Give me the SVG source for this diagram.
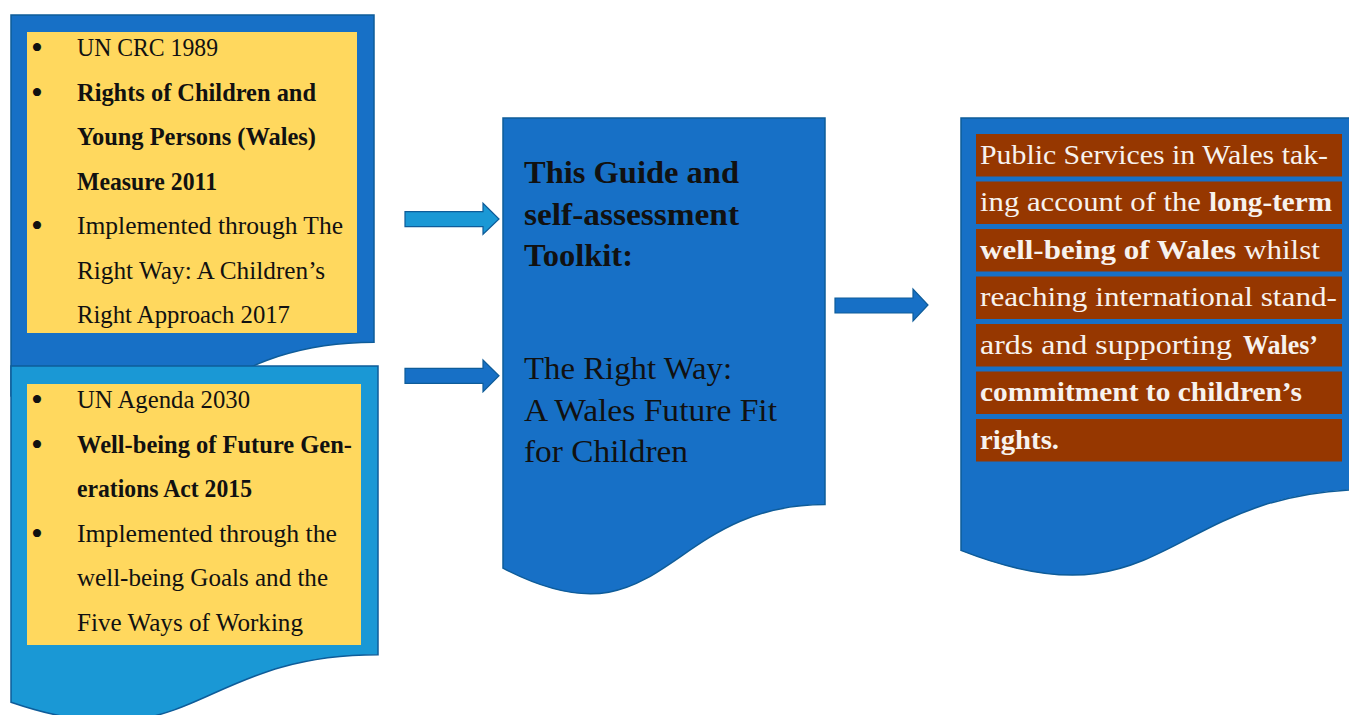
<svg xmlns="http://www.w3.org/2000/svg" width="1349" height="715" viewBox="0 0 1349 715">
<style>
.doc{stroke:#0E5C99;stroke-width:1.5}
.dark{fill:#1770C6}
.light{fill:#1A98D5}
.arrow{stroke:#0E5C99;stroke-width:1.2}
.t{font-family:"Liberation Serif","Times New Roman",serif;fill:#111}
.s{font-size:25px}
.m{font-size:32px}
.r{font-size:28px;fill:#F7F2EE}
.b{font-weight:bold}
.bul{font-family:"Liberation Serif",serif;font-size:34px;fill:#111;text-anchor:middle}
</style>
<rect width="1349" height="715" fill="#FFFFFF"/>
<g id="box1">
<path class="doc dark" d="M11,15 H374 V342.2 C192.5,342.2 192.5,466.9 11,396.1 Z"/>
<rect x="27" y="32" width="330" height="301" fill="#FFD85E"/>
<text class="bul" x="37" y="59">•</text>
<text class="bul" x="37" y="103.5">•</text>
<text class="bul" x="37" y="237">•</text>
<text class="t s" x="77" y="56" textLength="141" lengthAdjust="spacingAndGlyphs">UN CRC 1989</text>
<text class="t s b" x="77" y="100.5" textLength="239" lengthAdjust="spacingAndGlyphs">Rights of Children and</text>
<text class="t s b" x="77" y="145" textLength="239" lengthAdjust="spacingAndGlyphs">Young Persons (Wales)</text>
<text class="t s b" x="77" y="189.5" textLength="140" lengthAdjust="spacingAndGlyphs">Measure 2011</text>
<text class="t s" x="77" y="234" textLength="266" lengthAdjust="spacingAndGlyphs">Implemented through The</text>
<text class="t s" x="77" y="278.5" textLength="248" lengthAdjust="spacingAndGlyphs">Right Way: A Children’s</text>
<text class="t s" x="77" y="323" textLength="213" lengthAdjust="spacingAndGlyphs">Right Approach 2017</text>
</g>
<g id="box2">
<path class="doc light" d="M11,366 H378 V654.7 C194.5,654.7 194.5,764.7 11,702.2 Z"/>
<rect x="27" y="384" width="334" height="261" fill="#FFD85E"/>
<text class="bul" x="37" y="411">•</text>
<text class="bul" x="37" y="455.5">•</text>
<text class="bul" x="37" y="544.5">•</text>
<text class="t s" x="77" y="408" textLength="173" lengthAdjust="spacingAndGlyphs">UN Agenda 2030</text>
<text class="t s b" x="77" y="452.5" textLength="275" lengthAdjust="spacingAndGlyphs">Well-being of Future Gen-</text>
<text class="t s b" x="77" y="497" textLength="175" lengthAdjust="spacingAndGlyphs">erations Act 2015</text>
<text class="t s" x="77" y="541.5" textLength="260" lengthAdjust="spacingAndGlyphs">Implemented through the</text>
<text class="t s" x="77" y="586" textLength="251" lengthAdjust="spacingAndGlyphs">well-being Goals and the</text>
<text class="t s" x="77" y="630.5" textLength="226" lengthAdjust="spacingAndGlyphs">Five Ways of Working</text>
</g>
<g id="guide">
<path class="doc dark" d="M503,118 H825 V504.6 C664,504.6 664,651.8 503,568.2 Z"/>
<text class="t m b" x="524" y="183" textLength="215" lengthAdjust="spacingAndGlyphs">This Guide and</text>
<text class="t m b" x="524" y="225" textLength="215" lengthAdjust="spacingAndGlyphs">self-assessment</text>
<text class="t m b" x="524" y="266" textLength="109" lengthAdjust="spacingAndGlyphs">Toolkit:</text>
<text class="t m" x="524" y="379" textLength="208" lengthAdjust="spacingAndGlyphs">The Right Way:</text>
<text class="t m" x="524" y="421" textLength="253" lengthAdjust="spacingAndGlyphs">A Wales Future Fit</text>
<text class="t m" x="524" y="462" textLength="164" lengthAdjust="spacingAndGlyphs">for Children</text>
</g>
<g id="outcome">
<path class="doc dark" d="M961,118 H1371 V489.3 C1166,489.3 1166,630.8 961,550.4 Z"/>
<g fill="#963700">
<rect x="976" y="134" width="366" height="42.5"/>
<rect x="976" y="181.5" width="366" height="42.5"/>
<rect x="976" y="229" width="366" height="42.5"/>
<rect x="976" y="276.5" width="366" height="42.5"/>
<rect x="976" y="324" width="366" height="42.5"/>
<rect x="976" y="371.5" width="366" height="42.5"/>
<rect x="976" y="419" width="366" height="42.5"/>
</g>
<text class="t r" x="980" y="164" textLength="348" lengthAdjust="spacingAndGlyphs">Public Services in Wales tak-</text>
<text class="t r" x="980" y="211" textLength="221" lengthAdjust="spacingAndGlyphs">ing account of the</text>
<text class="t r b" x="1209" y="211" textLength="123" lengthAdjust="spacingAndGlyphs">long-term</text>
<text class="t r b" x="980" y="258.5" textLength="256" lengthAdjust="spacingAndGlyphs">well-being of Wales</text>
<text class="t r" x="1244" y="258.5" textLength="76" lengthAdjust="spacingAndGlyphs">whilst</text>
<text class="t r" x="980" y="306" textLength="357" lengthAdjust="spacingAndGlyphs">reaching international stand-</text>
<text class="t r" x="980" y="353.5" textLength="252" lengthAdjust="spacingAndGlyphs">ards and supporting</text>
<text class="t r b" x="1243" y="353.5" textLength="75" lengthAdjust="spacingAndGlyphs">Wales’</text>
<text class="t r b" x="980" y="401" textLength="322" lengthAdjust="spacingAndGlyphs">commitment to children’s</text>
<text class="t r b" x="980" y="448.5" textLength="79" lengthAdjust="spacingAndGlyphs">rights.</text>
</g>
<g id="connectors">
<polygon class="arrow light" points="405,211.7 483,211.7 483,203.3 499,219 483,234.3 483,226.7 405,226.7"/>
<polygon class="arrow dark" points="405,368.3 483,368.3 483,360 499,375.8 483,391.7 483,383.3 405,383.3"/>
<polygon class="arrow dark" points="835,298 913,298 913,289 928,305 913,321 913,313 835,313"/>
</g>
</svg>
